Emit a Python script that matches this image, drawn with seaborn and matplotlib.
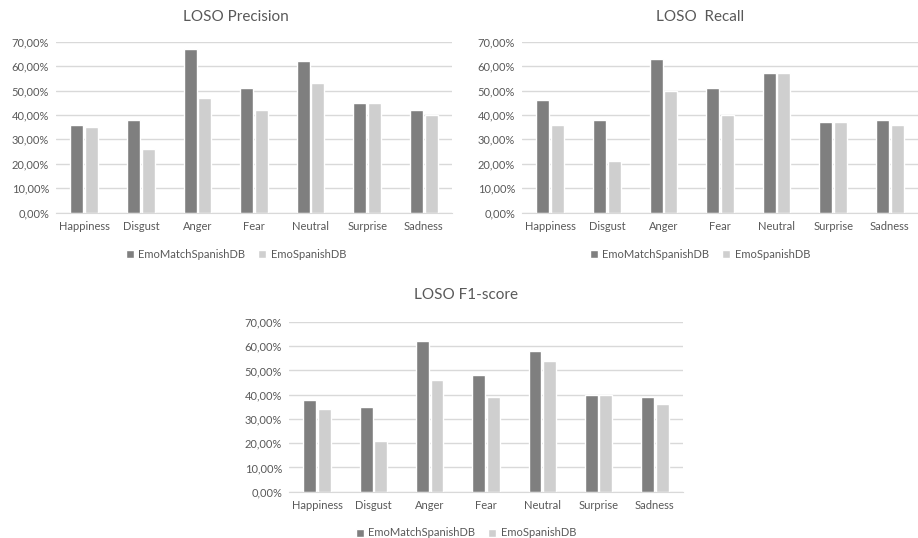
import pandas as pd
import matplotlib
matplotlib.use("Agg")
import matplotlib.pyplot as plt
import seaborn as sns
from matplotlib.ticker import FuncFormatter

# data (percent)
emotions = ["Happiness", "Disgust", "Anger", "Fear", "Neutral", "Surprise", "Sadness"]
series_names = ["EmoMatchSpanishDB", "EmoSpanishDB"]

precision_match = [36, 38, 67, 51, 62, 45, 42]
precision_spanish = [35, 26, 47, 42, 53, 45, 40]

recall_match = [46, 38, 63, 51, 57, 37, 38]
recall_spanish = [36, 21, 50, 40, 57, 37, 36]

f1_match = [38, 35, 62, 48, 58, 40, 39]
f1_spanish = [34, 21, 46, 39, 54, 40, 36]

sns.set_style("white")
plt.rcParams["font.family"] = ["Lato", "DejaVu Sans"]

TEXT = "#595959"
GRID = "#d9d9d9"
palette = {"EmoMatchSpanishDB": "#7f7f7f", "EmoSpanishDB": "#cfcfcf"}

W, H = 918, 538
fig = plt.figure(figsize=(W / 100, H / 100), dpi=100)


def panel(title, match, spanish, left, right, top, bottom, center_x, title_y, legend_y):
    ax = fig.add_axes([left / W, 1 - bottom / H, (right - left) / W, (bottom - top) / H])
    df = pd.DataFrame({
        "emotion": emotions * 2,
        "value": [v / 100 for v in match + spanish],
        "series": [series_names[0]] * 7 + [series_names[1]] * 7,
    })
    sns.barplot(data=df, x="emotion", y="value", hue="series", palette=palette,
                width=0.52, gap=0.12, ax=ax, saturation=1, legend=True)
    ax.set_ylim(0, 0.7)
    ax.set_xlim(-0.5, 6.5)
    ax.set_yticks([i / 10 for i in range(8)])
    ax.yaxis.set_major_formatter(FuncFormatter(lambda v, p: f"{v * 100:.2f}%".replace(".", ",")))
    ax.grid(axis="y", color=GRID, linewidth=1)
    ax.set_axisbelow(True)
    for s in ["top", "right", "left"]:
        ax.spines[s].set_visible(False)
    ax.spines["bottom"].set_color(GRID)
    ax.tick_params(axis="both", length=0, labelsize=8, colors=TEXT, pad=6)
    ax.tick_params(axis="y", pad=5)
    ax.set_xlabel("")
    ax.set_ylabel("")
    handles, labels = ax.get_legend_handles_labels()
    ax.get_legend().remove()
    fig.legend(handles, labels, loc="center", bbox_to_anchor=(center_x / W, 1 - legend_y / H),
               ncol=2, frameon=False, fontsize=8, labelcolor=TEXT,
               handlelength=0.7, handleheight=0.7, handletextpad=0.4, columnspacing=1.2)
    fig.text(center_x / W, 1 - title_y / H, title, ha="center", va="center",
             fontsize=11, color=TEXT)
    return ax


panel("LOSO Precision", precision_match, precision_spanish,
      56, 452, 41.7, 212.7, 236, 17, 254)
panel("LOSO  Recall", recall_match, recall_spanish,
      522, 918, 41.7, 212.7, 700, 17, 254)
panel("LOSO F1-score", f1_match, f1_spanish,
      289, 683, 322, 491.7, 466, 295, 533)

fig.savefig("out.png", dpi=100, facecolor="white")
